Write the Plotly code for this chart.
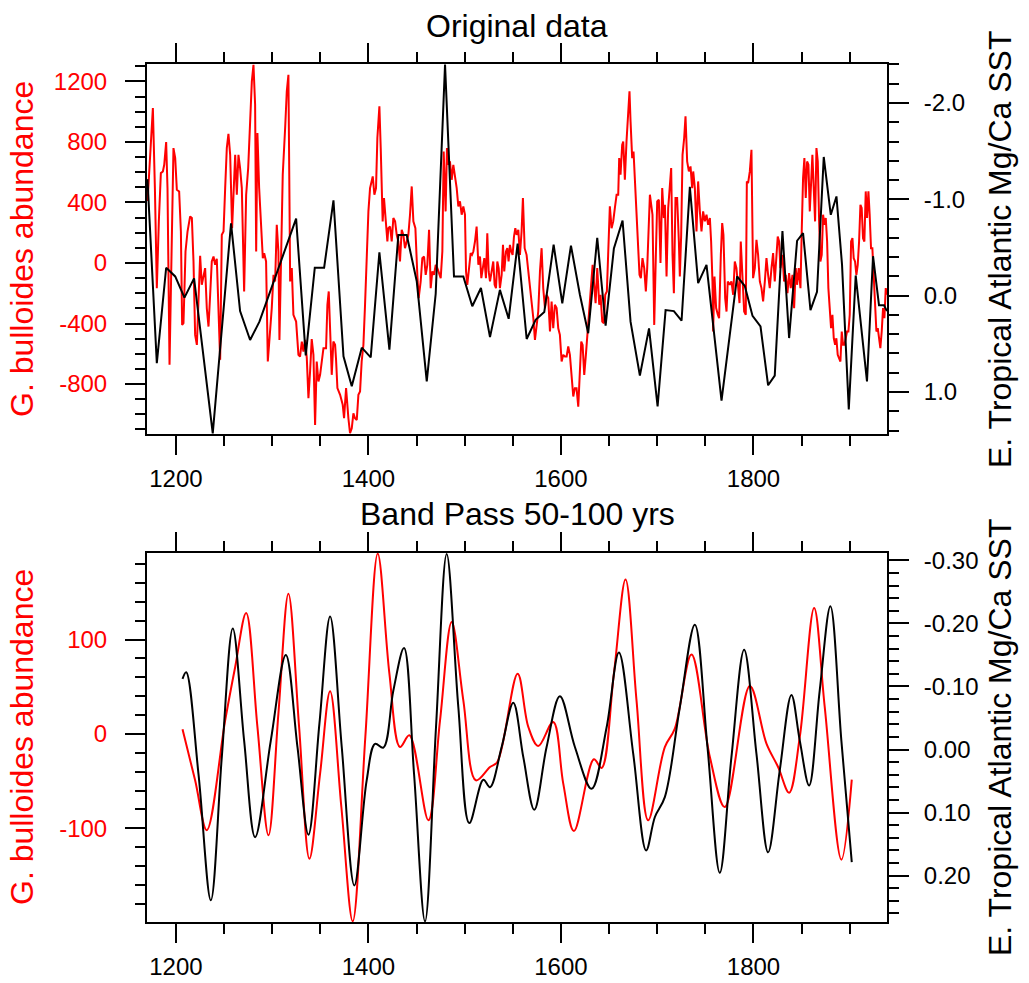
import plotly.graph_objects as go

# ---------------- data ----------------
# Top panel: original data
top_red_year = [
    1170.6, 1173.3, 1176.1, 1178.2, 1180.2, 1182.3, 1184.4, 1186.5, 1187.9, 1189.9,
    1191.3, 1193.4, 1195.5, 1197.5, 1199.3, 1201.0, 1203.4, 1205.2, 1206.5, 1207.9,
    1210.0, 1212.1, 1214.8, 1216.6, 1218.3, 1220.0, 1221.8, 1223.5, 1225.2, 1226.9,
    1228.7, 1230.4, 1232.1, 1233.9, 1235.6, 1237.3, 1239.1, 1240.8, 1242.5, 1244.3,
    1246.0, 1247.7, 1249.5, 1251.2, 1252.9, 1254.6, 1256.4, 1258.4, 1259.8, 1261.6,
    1263.3, 1265.0, 1266.7, 1268.5, 1270.9, 1273.0, 1275.1, 1277.1, 1278.9, 1280.6,
    1282.3, 1283.4, 1284.7, 1286.5, 1289.2, 1290.3, 1291.7, 1293.7, 1295.5, 1297.9,
    1299.6, 1301.4, 1303.1, 1304.8, 1306.5, 1307.6, 1309.0, 1311.0, 1313.5, 1315.2,
    1316.9, 1318.7, 1320.4, 1322.1, 1324.9, 1327.3, 1329.0, 1330.8, 1332.5, 1334.2,
    1336.0, 1337.7, 1339.4, 1341.1, 1342.9, 1344.6, 1346.3, 1348.1, 1349.8, 1351.5,
    1353.3, 1356.0, 1357.4, 1358.8, 1360.2, 1361.9, 1363.6, 1365.4, 1366.4, 1367.8,
    1370.6, 1373.3, 1374.7, 1376.8, 1379.2, 1380.9, 1382.7, 1384.4, 1386.1, 1387.9,
    1389.6, 1391.3, 1393.0, 1394.8, 1396.5, 1398.2, 1400.0, 1401.7, 1404.5, 1406.2,
    1407.9, 1409.3, 1411.4, 1412.8, 1414.8, 1416.2, 1418.3, 1419.7, 1420.7, 1422.5,
    1424.2, 1425.9, 1427.7, 1429.4, 1431.1, 1432.8,
    1434.6, 1436.3, 1438.0, 1439.8, 1441.5, 1443.2, 1445.0, 1446.7, 1448.8, 1450.8,
    1452.2, 1454.3, 1456.0, 1457.8, 1459.5, 1461.2, 1463.0, 1464.7, 1466.4, 1468.1,
    1469.9, 1471.6, 1473.3, 1475.1, 1476.8, 1478.2, 1479.2, 1480.2, 1481.6, 1483.0,
    1484.7, 1486.5, 1488.2, 1489.9, 1491.7, 1493.4, 1495.1, 1496.9, 1498.6, 1500.3,
    1501.4, 1502.7, 1504.5, 1506.2, 1507.6, 1509.0, 1510.7, 1512.4, 1514.2, 1515.9,
    1517.3, 1518.7, 1520.4, 1522.1, 1523.5, 1524.9, 1526.3, 1528.0, 1529.7, 1531.1,
    1532.5, 1533.9, 1535.3, 1536.6, 1538.4, 1539.8, 1541.1, 1542.9, 1544.3, 1545.6,
    1547.0, 1548.4, 1549.8, 1551.2, 1552.6, 1554.0, 1555.7, 1557.4, 1559.1, 1560.5,
    1562.3, 1564.3, 1566.1, 1567.8, 1569.5, 1571.3, 1573.0, 1574.7, 1576.4, 1578.2,
    1579.9, 1581.6, 1583.4, 1585.1, 1586.8, 1588.6, 1590.3, 1592.0, 1593.7, 1595.5,
    1597.2, 1598.9, 1600.7, 1602.4, 1604.1, 1605.9, 1607.6, 1609.3, 1611.0, 1612.8,
    1614.5, 1616.2, 1618.0, 1619.7, 1621.1, 1622.5, 1624.2, 1625.9, 1627.7, 1629.4,
    1631.1, 1632.9, 1634.2, 1636.0, 1637.7, 1639.8, 1641.1, 1642.9, 1644.6, 1646.0,
    1647.7, 1649.5, 1650.8, 1652.6, 1654.3, 1656.0, 1657.8, 1659.5, 1660.5, 1661.9,
    1663.6, 1664.7, 1666.4, 1668.1, 1669.9, 1671.2, 1672.3, 1674.0, 1675.4, 1677.1,
    1678.5, 1680.2, 1681.6, 1683.0, 1684.7, 1686.5, 1688.2, 1689.6, 1691.0, 1692.4,
    1695.1, 1696.9, 1698.6, 1700.0, 1701.7, 1703.4, 1705.2, 1706.9, 1708.0, 1709.7,
    1711.4, 1713.1, 1714.5, 1715.9, 1717.3, 1719.0, 1720.7, 1722.5, 1723.5, 1724.9,
    1726.3, 1728.0, 1729.4, 1731.1, 1732.9, 1734.6, 1736.3, 1737.4, 1739.1, 1740.8,
    1742.5, 1744.3, 1746.0, 1747.7, 1749.5, 1751.2, 1752.9, 1754.7, 1756.0, 1757.4,
    1758.1, 1759.5, 1761.2, 1763.0, 1764.3, 1766.1, 1767.5, 1768.8, 1770.6, 1772.0,
    1773.3, 1775.4, 1777.1, 1778.9, 1780.6, 1782.3, 1783.7, 1785.5, 1786.8, 1788.6,
    1790.3, 1792.0, 1793.1, 1794.4, 1796.2, 1797.9, 1799.6, 1801.4, 1803.1, 1804.8,
    1806.6, 1808.3, 1810.0, 1811.8, 1813.5, 1815.2, 1816.9, 1818.7, 1820.4, 1822.1,
    1823.9, 1825.2, 1826.6, 1828.0, 1830.1, 1831.8, 1833.5, 1835.3, 1837.0, 1838.7,
    1840.5, 1842.2, 1843.9, 1845.3, 1847.0, 1848.8, 1850.2, 1851.5, 1852.9, 1854.3,
    1855.7, 1857.1, 1858.5, 1859.8, 1861.2, 1862.6, 1864.0, 1865.4, 1866.8, 1868.2,
    1869.5, 1870.9, 1872.3, 1873.7, 1875.1, 1876.5, 1877.8, 1879.2, 1880.6, 1882.0,
    1883.4, 1884.8, 1886.1, 1887.5, 1888.9, 1890.3, 1891.7, 1893.1, 1894.5, 1895.8,
    1897.2, 1898.6, 1900.0, 1901.4, 1902.8, 1904.1, 1905.5, 1906.9, 1908.3, 1909.7,
    1911.1, 1912.4, 1913.8, 1915.2, 1916.6, 1918.0, 1919.4, 1920.7, 1922.1, 1923.5,
    1924.9, 1926.3, 1927.7, 1929.1, 1930.4, 1931.8, 1933.2, 1934.6, 1936.0, 1937.4,
    1938.7,
]
top_red_abundance = [
    410, 715, 1024, 495, -166, 275, 594, 605, 649, 799,
    495, -673, 54, 759, 693, 484, 473, 208, -409, -398,
    76, 208, 308, 297, 10, -475, -541, -210, 48, -144,
    -89, -34, -298, -420, -210, 10, 43, -12, 28, -320,
    -640, 186, 208, 495, 759, 854, 715, 230, 451, 715,
    451, 715, 627, 495, -188, 451, 627, 936, 1200, 1310,
    1046, 76, 859, 495, 164, 32, 65, 10, -651, -453,
    -298, -78, -122, 252, 76, -508, -56, 583, 892, 1134,
    1244, -122, -34, -342, -387, -607, -618, -519, -585, -508,
    -629, -893, -717, -503, -607, -1070, -651, -783, -739, -651,
    -563, -563, -276, -188, -387, -739, -519, -541, -640, -827,
    -871, -937, -1026, -827, -1026, -1125, -1092, -993, -1026, -1037,
    -871, -849, -651, -541, -276, 10, 341, 495, 572, 451,
    495, 826, 1035, 759, 275, 429, 275, 142, 230, 241,
    142, 297, 275, 186, 142, 10,
    219, 186, 98, 153, 186, 319, 506, 275, 230, -78,
    -232, -122, 32, 43, -78, -12, 219, -166, -56, -78,
    -12, -34, -67, -100, 76, 737, 539, 341, 759, 649,
    671, 550, 649, 583, 495, 374, 407, 319, 374, 319,
    -56, -144, -34, 65, 54, 76, 142, 241, -12, 43,
    -100, -34, 32, -100, 197, -56, -122, -56, 10, -144,
    -166, 10, -34, -166, -78, 120, -56, 76, 98, 10,
    120, 76, 54, 175, 230, 186, 219, 54, 208, 429,
    98, 54, -56, -122, -232, -365, -508, -398, -321, -56,
    98, -166, -298, -210, -232, -453, -254, -431, -276, -298,
    -431, -475, -651, -607, -618, -618, -552, -607, -739, -882,
    -827, -827, -949, -739, -519, -541, -739, -607, -431, -298,
    -166, -12, -122, -265, -34, -276, -210, -387, -398, -210,
    -188, 142, 374, 230, 275, 363, 451, 451, 693, 583,
    781, 803, 550, 803, 958, 1134, 936, 693, 737, 495,
    297, 98, -78, -100, 32, -34, -188, -34, 230, 451,
    319, -409, 54, 407, 418, 0, 495, 297, 385, -89,
    363, 495, 627, 54, -199, 429, 429, 142, -89, 186,
    715, 826, 969, 671, 605, 638, 495, 605, 495, 208,
    539, 341, 208, 341, 275, 319, 252, 297, 142, -122,
    -453, -89, -298, -342, -365, 54, 264, 186, -232, -321,
    -122, -144, -122, -210, 10, -34, -166, -265, 142, -78,
    -321, -342, 539, 528, 605, 748, -100, -34, 153, 54,
    -122, -166, -254, -122, 32, -78, -166, -34, 65, -122,
    54, 175, 142, -34, 54, -122, -78, -199, -67, -166,
    -78, -298, -34, -144, -34, -166, 230, 561, 693, 429,
    671, 649, 341, 539, 715, 495, 275, 759, 671, 275,
    10, 54, 319, 252, 297, 142, -166, -298, -431, -342,
    -497, -541, -497, -607, -629, -651, -453, -541, -541, -497,
    -453, -453, -342, 142, 164, 32, 10, -78, -12, 142,
    385, 363, 164, 142, 473, 297, 473, 319, 98, 98,
    -122, -298, -453, -431, -497, -563, -453, -298, -365, -166,
    -210,
]

top_black_year = [
    1170.5, 1180.2, 1189.9, 1199.3, 1208.9, 1218.9, 1238.3, 1257.3, 1266.7, 1277.1,
    1286.8, 1324.9, 1334.9, 1344.3, 1354.0, 1363.7, 1374.1, 1382.7, 1393.1, 1402.4,
    1411.4, 1421.8, 1431.1, 1439.8, 1450.2, 1460.6, 1469.9, 1479.6, 1488.9, 1498.6,
    1507.9, 1516.9, 1526.3, 1536.6, 1545.7, 1555.0, 1564.4, 1573.7, 1582.7, 1592.4,
    1601.4, 1610.4, 1619.7, 1628.3, 1637.7, 1646.4, 1655.0, 1664.0, 1672.3, 1682.0,
    1691.5, 1700.4, 1708.7, 1717.3, 1725.3, 1733.9, 1742.5, 1751.2, 1766.8, 1783.0,
    1791.0, 1799.0, 1807.3, 1815.2, 1822.1, 1830.1, 1837.0, 1845.3, 1851.5, 1859.2,
    1866.0, 1873.0, 1880.3, 1886.2, 1892.0, 1899.0, 1906.2, 1917.9, 1924.2, 1930.4,
    1935.6, 1938.7,
]
top_black_sst = [
    -1.21, 0.70, -0.29, -0.20, 0.02, -0.18, 1.43, -0.75, 0.16, 0.46,
    0.27, -0.80, 0.62, -0.29, -0.29, -0.99, 0.63, 0.94, 0.54, 0.64,
    -0.45, 0.56, -0.63, -0.63, -0.15, 0.89, -0.02, -2.40, -0.20, -0.20,
    0.11, -0.08, 0.43, -0.06, 0.24, -0.54, 0.45, 0.25, 0.17, -0.53,
    0.08, -0.52, -0.01, 0.39, -0.60, 0.31, -0.49, -0.78, 0.27, 0.83,
    0.34, 1.15, 0.15, 0.16, 0.26, -1.13, -0.13, -0.32, 1.09, -0.20,
    -0.10, 0.21, 0.32, 0.93, 0.83, -0.67, 0.44, -0.57, -0.65, 0.15,
    -0.04, -1.44, -0.84, -1.03, -0.32, 1.18, -0.21, 0.89, -0.41, 0.10,
    0.10, 0.16,
]

# Bottom panel: band pass 50-100 yrs
bp_red_year = [
    1206.9, 1220.0, 1232.1, 1251.2, 1261.6, 1273.0, 1284.7, 1296.2, 1306.5, 1316.9,
    1328.0, 1338.7, 1349.8, 1360.2, 1371.9, 1383.7, 1396.8, 1409.7, 1421.8, 1432.8,
    1442.5, 1462.3, 1474.4, 1486.5, 1498.6, 1511.7, 1526.3, 1533.9, 1555.0, 1566.1,
    1576.4, 1592.0, 1602.4, 1613.5, 1634.2, 1642.2, 1655.0, 1667.1, 1678.5, 1690.6,
    1707.9, 1718.3, 1735.6, 1754.7, 1770.2, 1796.2, 1813.5, 1825.6, 1837.0, 1848.1,
    1863.0, 1874.0, 1891.3, 1902.1,
]
bp_red_abundance = [
    4.9, -49.2, -102.0, 14.4, 71.0, 128.2, 7.4, -107.5, 21.5, 148.7,
    7.4, -132.3, -42.1, 45.2, -77.5, -198.7, -3.3, 191.2, 63.9, -13.9,
    -1.5, -91.6, 14.4, 118.7, 35.6, -49.2, -35.1, -29.8, 63.9, 7.4,
    -12.8, 12.7, -52.7, -103.0, -26.9, -36.1, 63.9, 163.6, 35.6, -91.6,
    -13.9, 5.6, 84.1, -24.5, -77.5, 50.8, -10.3, -35.1, -62.3, -3.2,
    133.5, 28.6, -133.3, -48.5,
]

bp_black_year = [
    1206.9, 1210.7, 1223.5, 1236.3, 1247.7, 1259.1, 1270.9, 1282.3, 1298.6, 1314.2,
    1326.3, 1337.7, 1349.1, 1360.2, 1372.3, 1385.4, 1398.2, 1406.9, 1415.5, 1425.9,
    1437.0, 1447.4, 1458.8, 1470.2, 1481.3, 1493.4, 1504.8, 1519.4, 1526.3, 1538.4,
    1550.5, 1560.9, 1572.3, 1585.1, 1598.9, 1614.5, 1631.8, 1647.4, 1660.2, 1675.1,
    1688.5, 1697.6, 1707.9, 1723.5, 1739.1, 1752.2, 1765.0, 1777.1, 1790.3, 1803.1,
    1815.2, 1827.3, 1839.4, 1848.1, 1857.8, 1868.8, 1879.9, 1891.3, 1902.1,
]
bp_black_sst = [
    -0.112, -0.1225, 0.039, 0.239, 0.012, -0.192, -0.014, 0.139, -0.014, -0.150,
    -0.004, 0.135, -0.041, -0.211, -0.004, 0.2155, 0.049, -0.009, -0.003, -0.0935,
    -0.161, 0.0385, 0.2726, -0.035, -0.310, -0.067, 0.1167, 0.048, 0.0597, -0.004,
    -0.074, 0.012, 0.0956, -0.004, -0.0845, -0.004, 0.0623, -0.035, -0.1537, 0.007,
    0.160, 0.107, 0.0755, -0.067, -0.198, -0.004, 0.1955, 0.012, -0.158, 0.007,
    0.163, 0.033, -0.0866, -0.014, 0.057, -0.0935, -0.227, -0.014, 0.1786,
]

# tick labels
year_ticks = [1200, 1400, 1600, 1800]
year_labels = ["1200", "1400", "1600", "1800"]
top_left_ticks = [-800, -400, 0, 400, 800, 1200]
top_left_labels = ["-800", "-400", "0", "400", "800", "1200"]
top_right_ticks = [-2.0, -1.0, 0.0, 1.0]
top_right_labels = ["-2.0", "-1.0", "0.0", "1.0"]
bot_left_ticks = [-100, 0, 100]
bot_left_labels = ["-100", "0", "100"]
bot_right_ticks = [-0.3, -0.2, -0.1, 0.0, 0.1, 0.2]
bot_right_labels = ["-0.30", "-0.20", "-0.10", "0.00", "0.10", "0.20"]

titles = ["Original data", "Band Pass 50-100 yrs"]
left_title = "G. bulloides abundance"
right_title = "E. Tropical Atlantic Mg/Ca SST"

# ---------------- figure ----------------
RED = "#ff0000"
FONT = "Liberation Sans, Arial, Helvetica, sans-serif"
W, H = 1029, 983
ML, MR, MT, MB = 147, 142, 64, 61
PW, PH = W - ML - MR, H - MT - MB


def py2paper(py):
    return (H - MB - py) / PH


def px2paper(px):
    return (px - ML) / PW


top_dom = [py2paper(434), 1.0]
bot_dom = [0.0, py2paper(553)]

fig = go.Figure()
fig.add_trace(go.Scatter(x=top_red_year, y=top_red_abundance, mode="lines",
                         line=dict(color=RED, width=2), xaxis="x", yaxis="y"))
fig.add_trace(go.Scatter(x=top_black_year, y=top_black_sst, mode="lines",
                         line=dict(color="black", width=2), xaxis="x", yaxis="y2"))
fig.add_trace(go.Scatter(x=bp_red_year, y=bp_red_abundance, mode="lines",
                         line=dict(color=RED, width=2, shape="spline", smoothing=1.0),
                         xaxis="x2", yaxis="y3"))
fig.add_trace(go.Scatter(x=bp_black_year, y=bp_black_sst, mode="lines",
                         line=dict(color="black", width=2, shape="spline", smoothing=1.0),
                         xaxis="x2", yaxis="y4"))

tickfont_black = dict(family=FONT, size=24, color="black")
tickfont_red = dict(family=FONT, size=24, color=RED)

xcommon = dict(range=[1170, 1938.7], tickmode="array", tickvals=year_ticks, ticktext=year_labels,
               ticks="outside", ticklen=19, tickwidth=2, tickcolor="black",
               minor=dict(tickmode="linear", tick0=1150, dtick=50, ticklen=10, tickwidth=1.5,
                          tickcolor="black", ticks="outside"),
               showline=True, linewidth=2, linecolor="black", mirror="ticks",
               showgrid=False, zeroline=False, tickfont=tickfont_black,
               ticklabelstandoff=3, automargin=False)


def ycommon(rng, tv, tt, mdt, m0, font, standoff):
    return dict(range=rng, tickmode="array", tickvals=tv, ticktext=tt,
                ticks="outside", ticklen=20, tickwidth=2, tickcolor="black",
                minor=dict(tickmode="linear", tick0=m0, dtick=mdt, ticklen=10, tickwidth=1.5,
                           tickcolor="black", ticks="outside"),
                showline=True, linewidth=2, linecolor="black",
                showgrid=False, zeroline=False, tickfont=font, ticklabelstandoff=standoff,
                automargin=False)


fig.update_layout(
    width=W, height=H, autosize=False,
    margin=dict(l=ML, r=MR, t=MT, b=MB, pad=0, autoexpand=False),
    paper_bgcolor="white", plot_bgcolor="white",
    showlegend=False,
    xaxis=dict(domain=[0, 1], anchor="y", **xcommon),
    xaxis2=dict(domain=[0, 1], anchor="y3", **xcommon),
    yaxis=dict(domain=top_dom, anchor="x", side="left", mirror=True,
               **ycommon([-1130, 1315], top_left_ticks, top_left_labels, 100, 0, tickfont_red, 13)),
    yaxis2=dict(domain=top_dom, anchor="x", overlaying="y", side="right",
                **ycommon([1.436, -2.405], top_right_ticks, top_right_labels, 0.2, 0, tickfont_black, 10)),
    yaxis3=dict(domain=bot_dom, anchor="x2", side="left", mirror=True,
                **ycommon([-199.4, 191.8], bot_left_ticks, bot_left_labels, 20, 0, tickfont_red, 13)),
    yaxis4=dict(domain=bot_dom, anchor="x2", overlaying="y3", side="right",
                **ycommon([0.2735, -0.3116], bot_right_ticks, bot_right_labels, 0.02, 0, tickfont_black, 10)),
)

ann = []
ann.append(dict(text=titles[0], x=0.5, y=py2paper(26), xref="paper", yref="paper",
                xanchor="center", yanchor="middle", showarrow=False,
                font=dict(family=FONT, size=32, color="black")))
ann.append(dict(text=titles[1], x=0.5, y=py2paper(514), xref="paper", yref="paper",
                xanchor="center", yanchor="middle", showarrow=False,
                font=dict(family=FONT, size=32, color="black")))
for cy in (249, 737):
    ann.append(dict(text=left_title, x=px2paper(22), y=py2paper(cy), xref="paper", yref="paper",
                    xanchor="center", yanchor="middle", textangle=-90, showarrow=False,
                    font=dict(family=FONT, size=32, color=RED)))
    ann.append(dict(text=right_title, x=px2paper(1000), y=py2paper(cy), xref="paper", yref="paper",
                    xanchor="center", yanchor="middle", textangle=-90, showarrow=False,
                    font=dict(family=FONT, size=32, color="black")))
fig.update_layout(annotations=ann)

fig.write_html("out.html", config={"displayModeBar": False},
               post_script="document.body.style.margin='0';")
